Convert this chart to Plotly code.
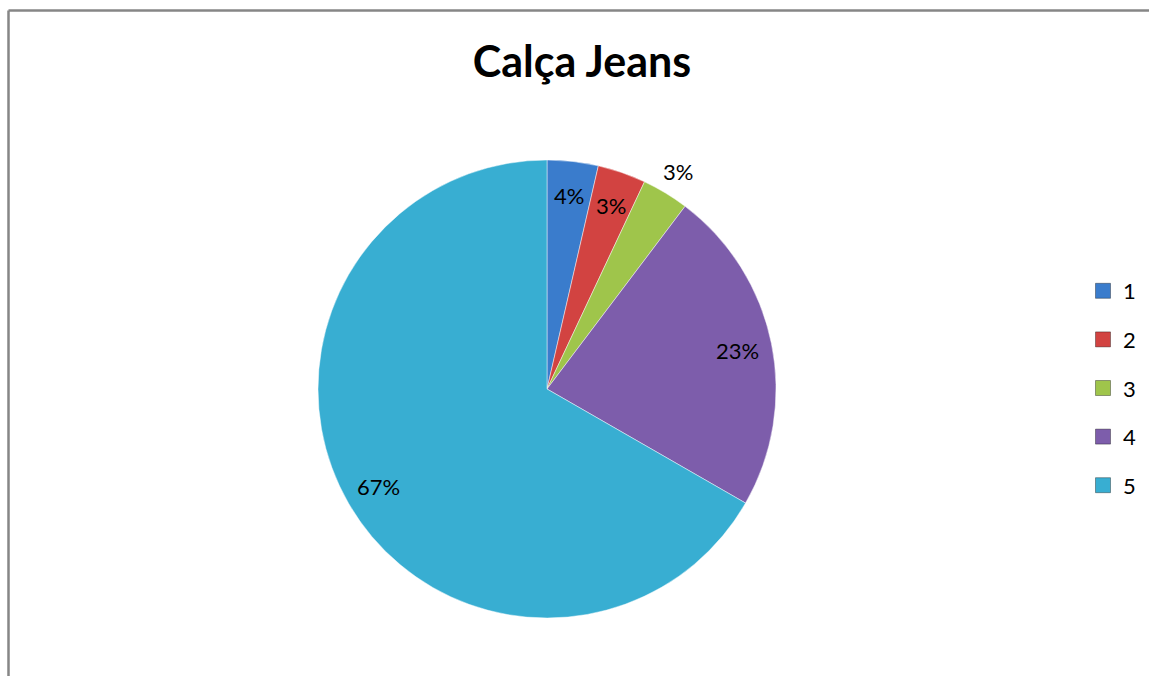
import math
import plotly.graph_objects as go

# Pie data
categories = ["1", "2", "3", "4", "5"]
values = [3.6, 3.4, 3.3, 23.0, 66.7]
colors = ["#3a7ccc", "#d24341", "#9fc54b", "#7d5dab", "#38aed2"]
title_text = "Calça Jeans"

W, H = 1149, 676
# pie centre and radius in pixels
CX, CY, R = 547, 389, 229

font_family = "Lato, 'Open Sans', sans-serif"

fig = go.Figure()

fig.add_trace(go.Pie(
    labels=categories,
    values=values,
    sort=False,
    direction="clockwise",
    rotation=0,
    marker=dict(colors=colors, line=dict(color="rgba(255,255,255,0.45)", width=1)),
    textinfo="none",
    hoverinfo="label+percent",
    showlegend=False,
    domain=dict(x=[(CX - R) / W, (CX + R) / W],
                y=[(H - CY - R) / H, (H - CY + R) / H]),
))

# legend entries as square markers
for i, (cat, col) in enumerate(zip(categories, colors)):
    fig.add_trace(go.Scatter(
        x=[None], y=[None], mode="markers", name=cat,
        legendgroup=cat,
        marker=dict(symbol="square", size=15, color=col,
                    line=dict(color="rgba(0,0,0,0.35)", width=1)),
    ))

# percentage labels placed along each slice's mid angle
total = sum(values)
outside = {2}
cum = 0.0
annotations = []
for i, v in enumerate(values):
    frac = v / total
    mid = (cum + frac / 2) * 2 * math.pi
    cum += frac
    rf = 1.11 if i in outside else 0.85
    px = CX + rf * R * math.sin(mid)
    py = CY - rf * R * math.cos(mid)
    annotations.append(dict(
        x=px / W, y=1 - py / H, xref="paper", yref="paper",
        text=f"{round(frac * 100)}%", showarrow=False,
        font=dict(size=22, color="#000000", family=font_family),
        xanchor="center", yanchor="middle",
    ))

border = dict(color="#868686", width=2.5)

fig.update_layout(
    width=W, height=H,
    margin=dict(l=0, r=0, t=0, b=0),
    paper_bgcolor="white",
    plot_bgcolor="white",
    title=dict(text=f"<b>{title_text}</b>", x=582 / W, y=1 - 62 / H,
               xanchor="center", yanchor="middle",
               font=dict(size=43, color="#000000", family=font_family)),
    xaxis=dict(visible=False),
    yaxis=dict(visible=False),
    legend=dict(x=1083 / W, y=1 - 388 / H, xanchor="left", yanchor="middle",
                traceorder="grouped", tracegroupgap=17,
                font=dict(size=22, color="#000000", family=font_family)),
    annotations=annotations,
    shapes=[
        dict(type="line", xref="paper", yref="paper",
             x0=8.5 / W, x1=1.2, y0=1 - 10.5 / H, y1=1 - 10.5 / H,
             line=border, layer="above"),
        dict(type="line", xref="paper", yref="paper",
             x0=8.5 / W, x1=8.5 / W, y0=-0.2, y1=1 - 10.5 / H,
             line=border, layer="above"),
    ],
)

fig.write_html("out.html", config={"displayModeBar": False})
